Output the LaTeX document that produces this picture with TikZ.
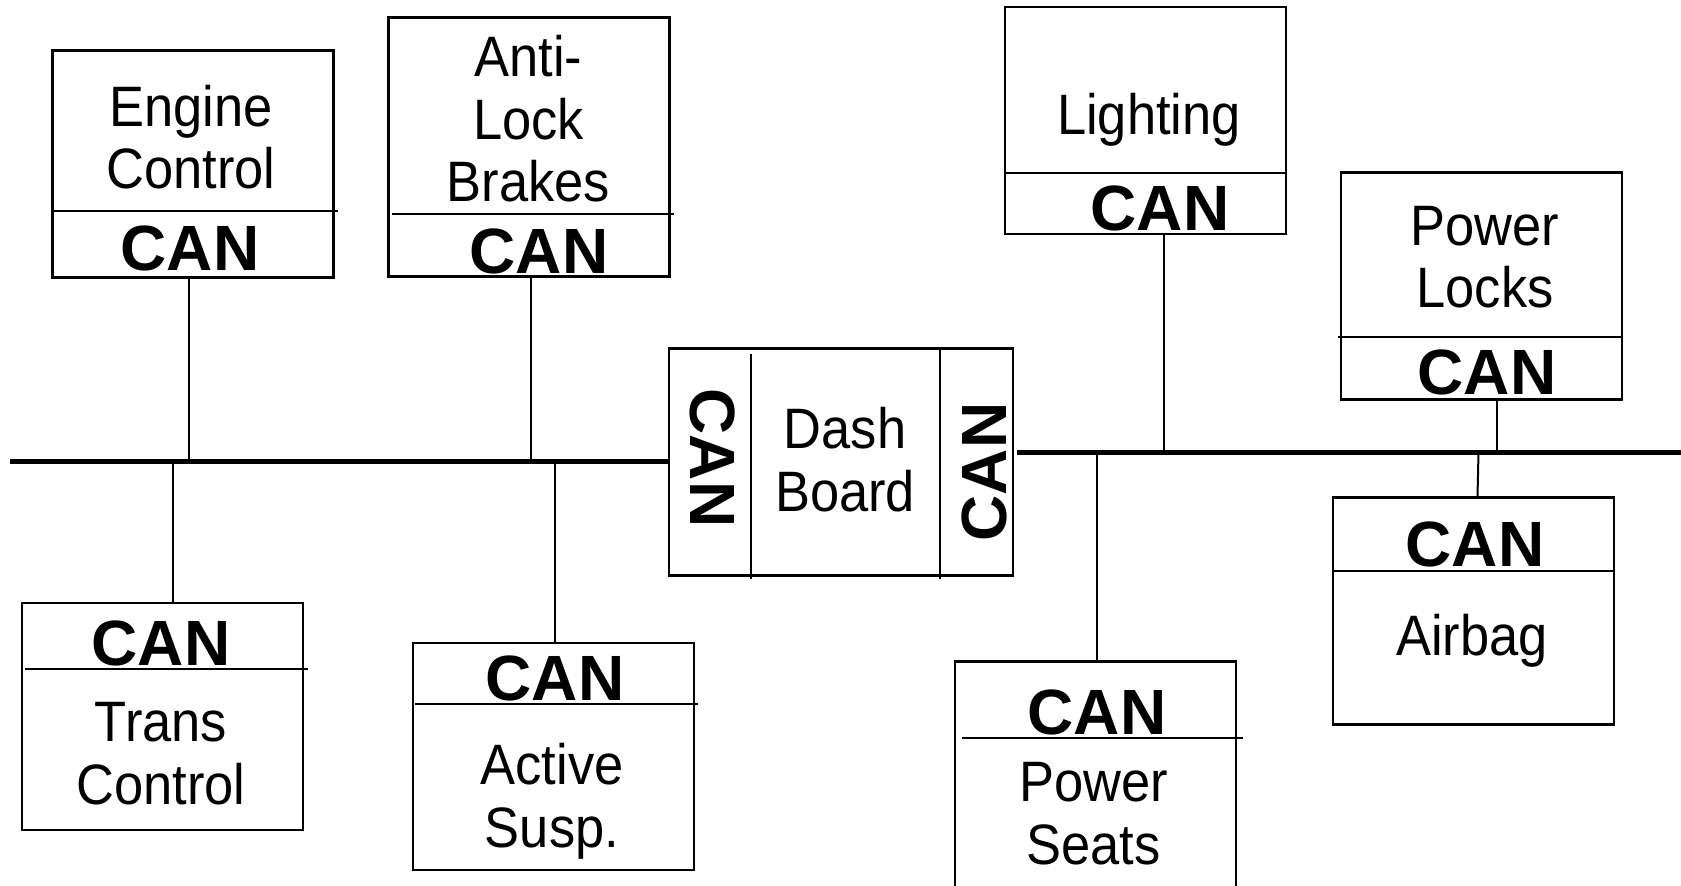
\documentclass[tikz,border=0pt]{standalone}
\usepackage{fontspec}
\setmainfont{Liberation Sans}
\newfontfamily\ecufamily[FakeStretch=0.92]{Liberation Sans}
\newcommand\ecufont{\ecufamily\fontsize{57}{62.5}\selectfont}
\newcommand\canfont{\fontsize{64}{64}\selectfont\bfseries}

\begin{document}
\begin{tikzpicture}[x=1pt, y=-1pt,
    ecu/.style={rectangle, draw=black, line width=2.2pt, minimum width=281pt, minimum height=227pt, inner sep=0pt},
    ecutext/.style={font=\ecufont, align=center, anchor=base, inner sep=0pt},
    cantext/.style={font=\canfont, anchor=base, inner sep=0pt},
    wire/.style={line width=2pt},
    bus/.style={line width=5pt}]

\useasboundingbox (0,0) rectangle (1681,886);

% control units
\node (eng) [ecu] at (193,164) {};
\node (abs) [ecu, minimum height=259pt] at (529,147) {};
\node (light) [ecu] at (1145.5,120.6) {};
\node (locks) [ecu] at (1481.5,286) {};
\node (dash) [ecu, minimum width=344pt] at (841,462) {};
\node (trans) [ecu] at (162.4,716.7) {};
\node (susp) [ecu] at (553.2,756.4) {};
\node (seats) [ecu] at (1095.6,775) {};
\node (airbag) [ecu] at (1473.5,611) {};

% CAN dividers
\draw[wire] (eng.west |- 0,211) -- (338,211);
\draw[wire] (392,214.4) -- (674,214.4);
\draw[wire] (light.west |- 0,172.6) -- (light.east |- 0,172.6);
\draw[wire] (1338,336.6) -- (locks.east |- 0,336.6);
\draw[wire] (25,669) -- (308,669);
\draw[wire] (415,704.4) -- (698,704.4);
\draw[wire] (962,737.6) -- (1243,737.6);
\draw[wire] (airbag.west |- 0,571.4) -- (airbag.east |- 0,571.4);
\draw[wire] (750.5,354) -- (750.5,579);
\draw[wire] (940.2,0 |- dash.north) -- (940.2,579);

% labels (base = last line)
\node (engname) [ecutext] at (191,188.7) {Engine\\Control};
\node (engcan) [cantext] at (190,270) {CAN};
\node (absname) [ecutext] at (528.5,201.6) {Anti-\\Lock\\Brakes};
\node (abscan) [cantext] at (539,273.4) {CAN};
\node (lightname) [ecutext] at (1149,134) {Lighting};
\node (lightcan) [cantext] at (1160,230.5) {CAN};
\node (locksname) [ecutext] at (1485,307.7) {Power\\Locks};
\node (lockscan) [cantext] at (1487,394.5) {CAN};
\node (dashname) [ecutext] at (845,511.4) {Dash\\Board};
\node (dashcanl) [cantext, anchor=center, rotate=-90] at (713,458) {CAN};
\node (dashcanr) [cantext, anchor=center, rotate=90] at (984,472) {CAN};
\node (transcan) [cantext] at (161,665) {CAN};
\node (transname) [ecutext] at (161,804) {Trans\\Control};
\node (suspcan) [cantext] at (555,700) {CAN};
\node (suspname) [ecutext] at (552,847) {Active\\Susp.};
\node (seatscan) [cantext] at (1097,734.4) {CAN};
\node (seatsname) [ecutext] at (1093.5,864) {Power\\Seats};
\node (airbagcan) [cantext] at (1475,566) {CAN};
\node (airbagname) [ecutext] at (1472,655) {Airbag};

% bus
\coordinate (busL) at (10,461);
\coordinate (busR) at (1681,452.4);
\draw[bus] (busL) -- (dash.west |- busL);
\draw[bus] (1017,0 |- busR) -- (busR);

% stubs
\draw[wire] (189,0 |- eng.south) -- (189,0 |- busL);
\draw[wire] (531,0 |- abs.south) -- (531,0 |- busL);
\draw[wire] (173,0 |- busL) -- (173,0 |- trans.north);
\draw[wire] (555,0 |- busL) -- (555,0 |- susp.north);
\draw[wire] (1164,0 |- light.south) -- (1164,0 |- busR);
\draw[wire] (1097,0 |- busR) -- (1097,0 |- seats.north);
\draw[wire] (1497,0 |- locks.south) -- (1497,0 |- busR);
\draw[wire] (1478.5,0 |- busR) -- (1477.5,0 |- airbag.north);

\end{tikzpicture}
\end{document}
